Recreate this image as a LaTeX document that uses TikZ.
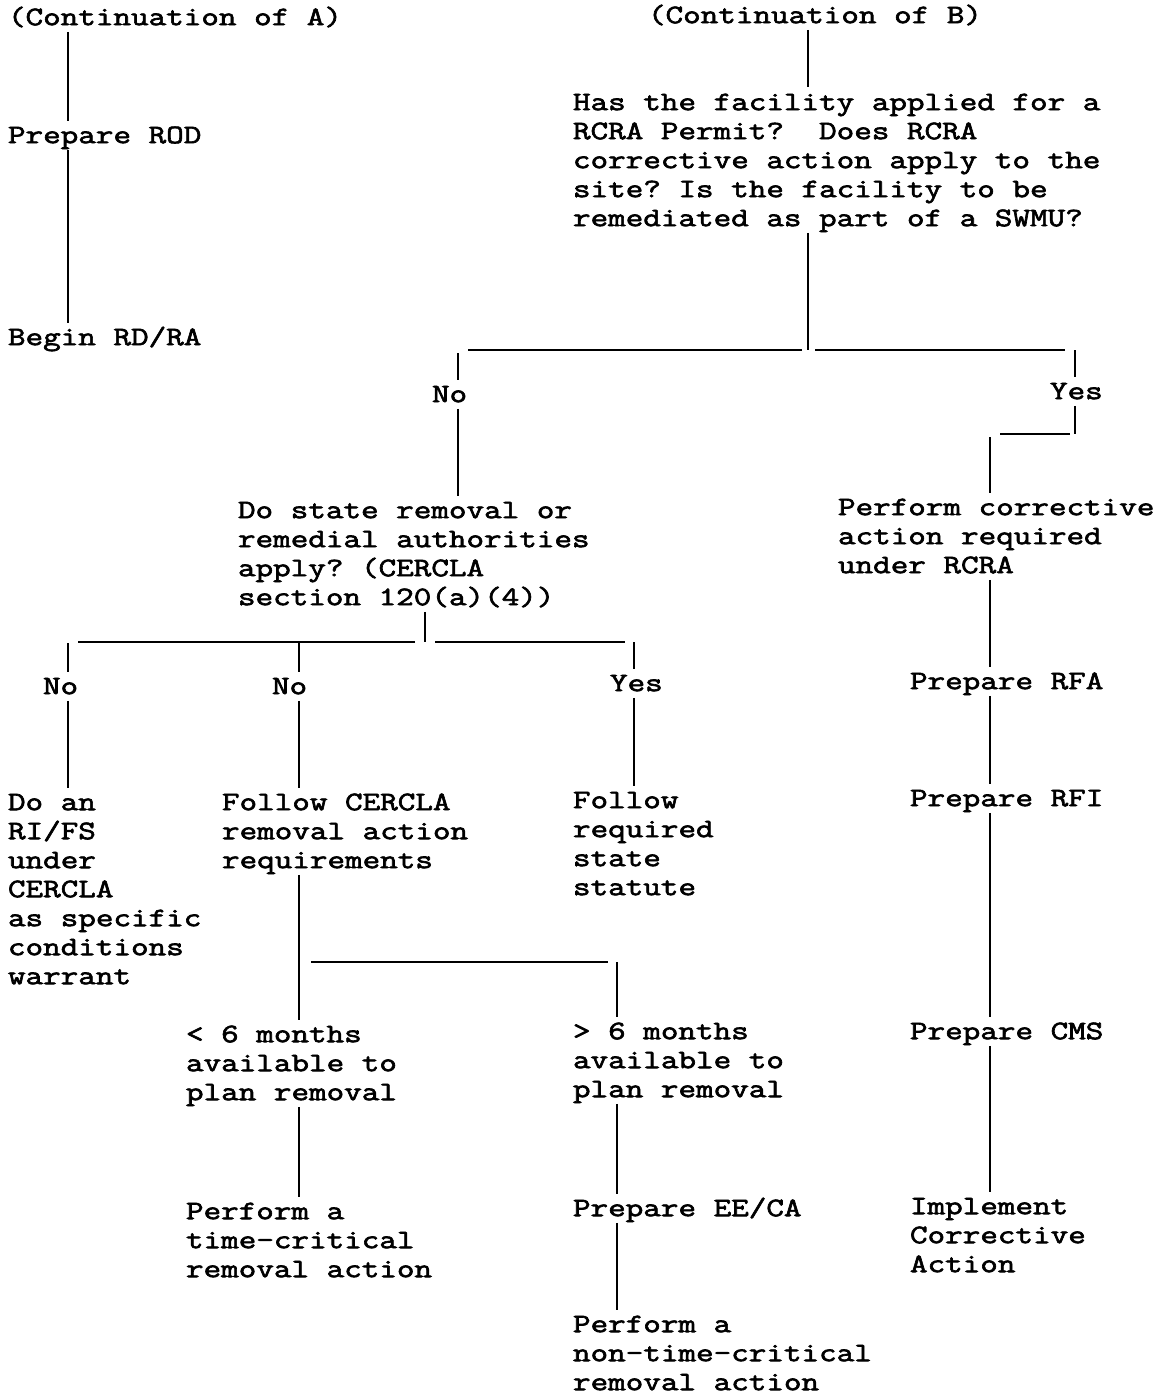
\documentclass[tikz,border=0pt]{standalone}
\usepackage{fontspec}
\newfontfamily\cf{Latin Modern Mono}[FakeStretch=1.28,FakeBold=2.4]
\newcommand\st{\rule{0pt}{17pt}}
\newcommand\sd{\rule[-5pt]{0pt}{5pt}}
\frenchspacing
\begin{document}
\begin{tikzpicture}[x=0.75pt,y=-0.75pt,
  t/.style={anchor=north west,inner sep=0pt,outer sep=0pt,align=left,
    font=\cf\fontsize{20}{21.75}\selectfont\frenchspacing},
  ln/.style={line width=1.6pt}]
\useasboundingbox[fill=white] (0,0) rectangle (1160,1395);
% text nodes
\node[t] (contA) at (8,2.5)    {\st(Continuation of A)\sd};
\node[t] (contB) at (648,0.5)  {\st(Continuation of B)\sd};
\node[t] (rod)   at (8,120.5)  {\st Prepare ROD\sd};
\node[t] (rdra)  at (8,322.5)  {\st Begin RD/RA\sd};
\node[t] (q1)    at (573,87.5) {\st Has the facility applied for a\\
  RCRA Permit?\ \ Does RCRA\\
  corrective action apply to the\\
  site? Is the facility to be\\
  remediated as part of a SWMU?\sd};
\node[t] (no1)   at (432,379.5)  {\st No\sd};
\node[t] (yes1)  at (1050,376.5) {\st Yes\sd};
\node[t] (q2)    at (238,495.5)  {\st Do state removal or\\
  remedial authorities\\
  apply? (CERCLA\\
  section 120(a)(4))\sd};
\node[t] (pca)   at (838,492.5)  {\st Perform corrective\\
  action required\\
  under RCRA\sd};
\node[t] (no2)   at (43,671.5)   {\st No\sd};
\node[t] (no3)   at (272,671.5)  {\st No\sd};
\node[t] (yes2)  at (610,668.5)  {\st Yes\sd};
\node[t] (rfa)   at (910,666.5)  {\st Prepare RFA\sd};
\node[t] (doan)  at (8,787.5)    {\st Do an\\
  RI/FS\\
  under\\
  CERCLA\\
  as specific\\
  conditions\\
  warrant\sd};
\node[t] (follow) at (222,787.5) {\st Follow CERCLA\\
  removal action\\
  requirements\sd};
\node[t] (state) at (573,785.5)  {\st Follow\\
  required\\
  state\\
  statute\sd};
\node[t] (rfi)   at (910,783.5)  {\st Prepare RFI\sd};
\node[t] (lt6)   at (186,1019.5) {\st < 6 months\\
  available to\\
  plan removal\sd};
\node[t] (gt6)   at (573,1016.5) {\st > 6 months\\
  available to\\
  plan removal\sd};
\node[t] (cms)   at (910,1016.5) {\st Prepare CMS\sd};
\node[t] (tcr)   at (186,1196.5) {\st Perform a\\
  time-critical\\
  removal action\sd};
\node[t] (eeca)  at (573,1193.5) {\st Prepare EE/CA\sd};
\node[t] (impl)  at (910,1191.5) {\st Implement\\
  Corrective\\
  Action\sd};
\node[t] (ntcr)  at (573,1309.5) {\st Perform a\\
  non-time-critical\\
  removal action\sd};
% columns and rows
\coordinate (cA) at (68,0);
\coordinate (cB) at (808,0);
\coordinate (cNo1) at (458,0);
\coordinate (cYes1) at (1075,0);
\coordinate (cR) at (990,0);
\coordinate (cQ2) at (425,0);
\coordinate (cM) at (299,0);
\coordinate (cY2) at (634,0);
\coordinate (cG) at (617,0);
\coordinate (rH1) at (0,350);
\coordinate (rY) at (0,434);
\coordinate (rH2) at (0,642);
\coordinate (rH3) at (0,962);
% connectors
\draw[ln] (contA.south -| cA) -- (rod.north -| cA);
\draw[ln] (rod.south -| cA) -- (rdra.north -| cA);
\draw[ln] (contB.south -| cB) -- (q1.north -| cB);
\draw[ln] (q1.south -| cB) -- (cB |- rH1);
\draw[ln,shorten <=4.5pt,shorten >=7.5pt] (cB |- rH1) -- (cNo1 |- rH1);
\draw[ln,shorten <=2.25pt] (cNo1 |- rH1) -- (no1.north -| cNo1);
\draw[ln] (no1.south -| cNo1) -- (q2.north -| cNo1);
\draw[ln,shorten <=5.25pt,shorten >=7.5pt] (cB |- rH1) -- (cYes1 |- rH1);
\draw[ln] (cYes1 |- rH1) -- (yes1.north -| cYes1);
\draw[ln] (yes1.south -| cYes1) -- (cYes1 |- rY);
\draw[ln,shorten <=3.75pt,shorten >=7.5pt] (cYes1 |- rY) -- (cR |- rY);
\draw[ln,shorten <=2.25pt] (cR |- rY) -- (pca.north -| cR);
\draw[ln] (q2.south -| cQ2) -- (cQ2 |- rH2);
\draw[ln,shorten <=7.5pt,shorten >=7.5pt] (cQ2 |- rH2) -- (cA |- rH2);
\draw[ln,shorten <=0.75pt] (cA |- rH2) -- (no2.north -| cA);
\draw[ln] (cM |- rH2) -- (no3.north -| cM);
\draw[ln,shorten <=7.5pt,shorten >=6.75pt] (cQ2 |- rH2) -- (cY2 |- rH2);
\draw[ln] (cY2 |- rH2) -- (yes2.north -| cY2);
\draw[ln] (no2.south -| cA) -- (doan.north -| cA);
\draw[ln] (no3.south -| cM) -- (follow.north -| cM);
\draw[ln] (yes2.south -| cY2) -- (state.north -| cY2);
\draw[ln] (follow.south -| cM) -- (lt6.north -| cM);
\draw[ln,shorten <=9pt,shorten >=6.75pt] (cM |- rH3) -- (cG |- rH3);
\draw[ln] (cG |- rH3) -- (gt6.north -| cG);
\draw[ln] (lt6.south -| cM) -- (tcr.north -| cM);
\draw[ln] (gt6.south -| cG) -- (eeca.north -| cG);
\draw[ln] (eeca.south -| cG) -- (ntcr.north -| cG);
\draw[ln] (pca.south -| cR) -- (rfa.north -| cR);
\draw[ln] (rfa.south -| cR) -- (rfi.north -| cR);
\draw[ln] (rfi.south -| cR) -- (cms.north -| cR);
\draw[ln] (cms.south -| cR) -- (impl.north -| cR);
\end{tikzpicture}
\end{document}
